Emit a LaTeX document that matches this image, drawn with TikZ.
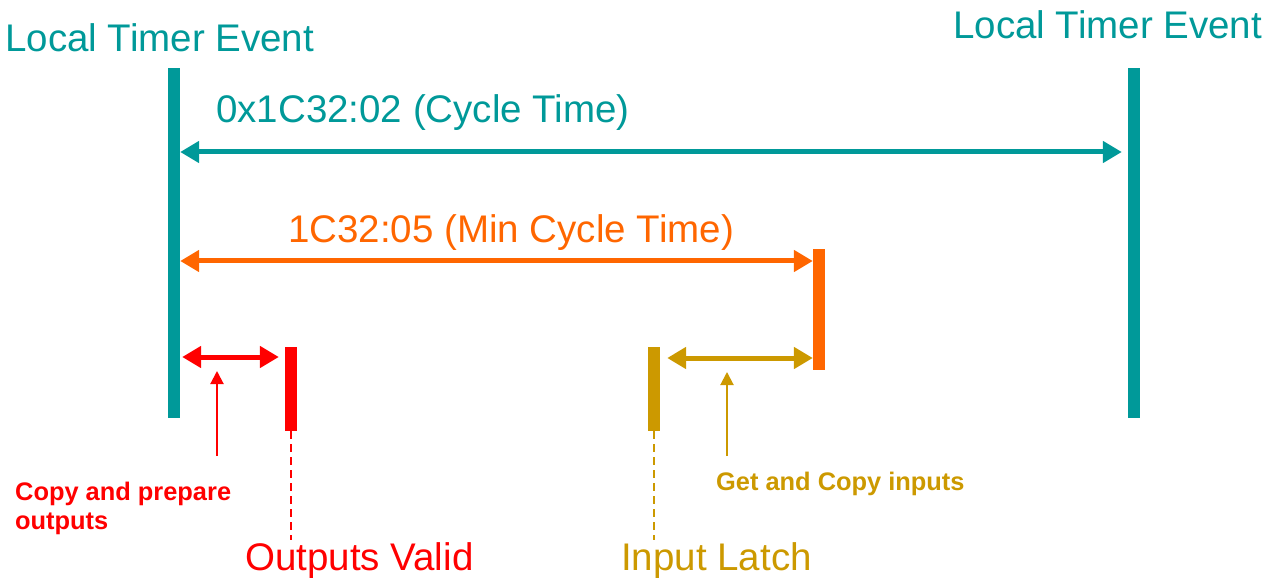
\documentclass[tikz,border=0pt]{standalone}
\usepackage{fontspec}
\setmainfont{Liberation Sans}
\usetikzlibrary{arrows.meta}
\definecolor{cteal}{HTML}{009999}
\definecolor{corange}{HTML}{FF6600}
\definecolor{cred}{HTML}{FF0000}
\definecolor{cgold}{HTML}{CC9900}
\tikzset{
  bar/.style={fill=#1, draw=none, inner sep=0pt, minimum width=12pt},
  span/.style={draw=#1, line width=5pt, {Triangle[length=19pt 0 0,width=21pt 0 0]}-{Triangle[length=19pt 0 0,width=21pt 0 0]}},
  bigtxt/.style={text=#1, inner sep=0pt, anchor=base west, font=\fontsize{38.5}{44}\selectfont},
  smalltxt/.style={text=#1, inner sep=0pt, anchor=base west, align=left, font=\fontsize{25.4}{29}\selectfont\bfseries},
  pointer/.style={draw=#1, line width=2pt, -{Triangle[length=13pt 0 0,width=13pt 0 0]}},
  guide/.style={draw=#1, line width=2pt, dash pattern=on 8pt off 5pt}
}
\begin{document}
\begin{tikzpicture}[x=1pt,y=-1pt]
\useasboundingbox (0,0) rectangle (1275,580);
% bars
\node[bar=cteal, minimum height=350pt] (lt1) at (174,243) {};
\node[bar=cteal, minimum height=350pt] (lt2) at (1134,243) {};
\node[bar=corange, minimum height=121pt] (mc) at (819,309.5) {};
\node[bar=cred, minimum height=84pt] (ov) at (291,389) {};
\node[bar=cgold, minimum height=84pt] (il) at (654,389) {};
% labels
\node[bigtxt=cteal] (l1) at (5,52) {Local Timer Event};
\node[bigtxt=cteal] (l2) at (953,39) {Local Timer Event};
\node[bigtxt=cteal] (ct) at (216,123) {0x1C32:02 (Cycle Time)};
\node[bigtxt=corange] (mct) at (288,243) {1C32:05 (Min Cycle Time)};
\node[bigtxt=cred] (ovl) at (245,570) {Outputs Valid};
\node[bigtxt=cgold] (ill) at (621,570) {Input Latch};
\node[smalltxt=cred] (cpo) at (15,529) {Copy and prepare\\outputs};
\node[smalltxt=cgold] (gci) at (716,490) {Get and Copy inputs};
% spans
\draw[span=cteal] (lt1.east |- 0,152) -- ([xshift=-6pt]lt2.west |- 0,152);
\draw[span=corange] (lt1.east |- 0,261) -- (mc.west |- 0,261);
\draw[span=cred] ([xshift=2pt]lt1.east |- 0,357) -- ([xshift=-6pt]ov.west |- 0,357);
\draw[span=cgold] ([xshift=7pt]il.east |- 0,358) -- (mc.west |- 0,358);
% pointers
\coordinate (p1s) at (217,456);
\coordinate (p1e) at (217,371);
\coordinate (p2s) at (727,456);
\coordinate (p2e) at (727,372);
\draw[pointer=cred] (p1s) -- (p1e);
\draw[pointer=cgold] (p2s) -- (p2e);
% dashed guides
\coordinate (g1) at (291,540);
\coordinate (g2) at (654,540);
\draw[guide=cred] (ov.south) -- (g1);
\draw[guide=cgold] (il.south) -- (g2);
\end{tikzpicture}
\end{document}
